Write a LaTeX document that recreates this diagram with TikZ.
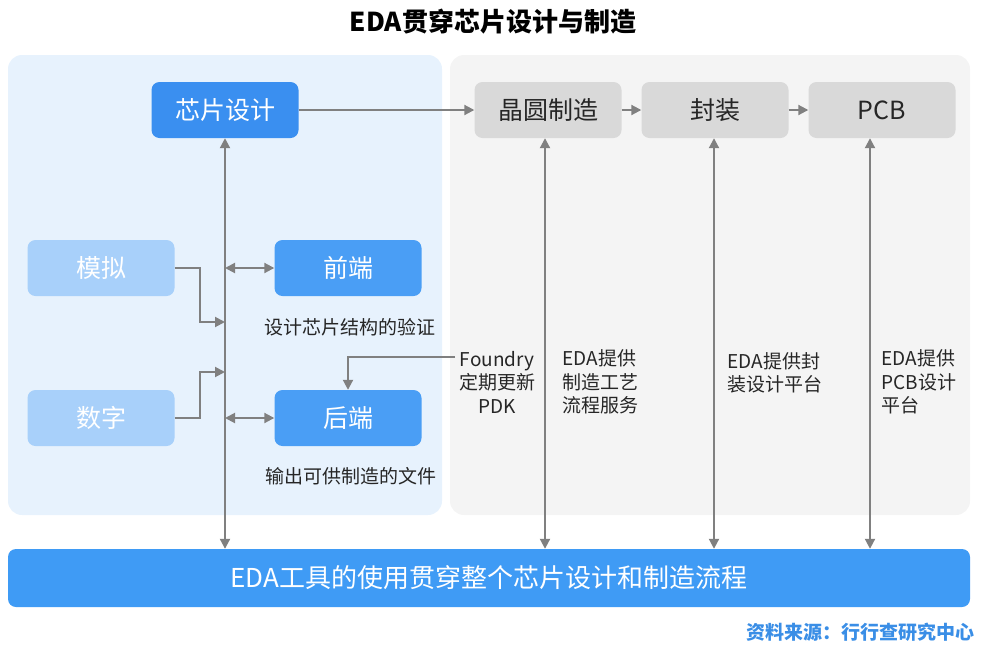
\documentclass[tikz,border=0pt]{standalone}
\usepackage{fontspec}
\setmainfont{Noto Sans CJK SC}
\usetikzlibrary{positioning}
\usetikzlibrary{calc}
\usetikzlibrary{arrows.meta}
\definecolor{panelblue}{HTML}{E7F2FD}
\definecolor{panelgray}{HTML}{F4F4F4}
\definecolor{chipblue}{HTML}{3A8FF0}
\definecolor{endblue}{HTML}{4A9EF5}
\definecolor{paleblue}{HTML}{A8D0FA}
\definecolor{stepgray}{HTML}{D9D9D9}
\definecolor{barblue}{HTML}{3F9BF5}
\definecolor{srcblue}{HTML}{3A8EE6}
\definecolor{linkgray}{HTML}{808080}

\begin{document}
\begin{tikzpicture}[x=1pt, y=-1pt, >={Triangle[length=10pt,width=10pt]},
    box/.style={rectangle, rounded corners=8pt, minimum width=147pt, minimum height=56pt, inner sep=0pt, font=\fontsize{25}{29}\selectfont},
    design/.style={box, fill=chipblue, text=white},
    stage/.style={box, fill=endblue, text=white},
    kind/.style={box, fill=paleblue, text=white},
    fab/.style={box, fill=stepgray, text=black!85},
    note/.style={font=\fontsize{19}{23.5}\selectfont, text=black!85},
    link/.style={draw=linkgray, line width=2pt}]

    \useasboundingbox (0,0) rectangle (999,654);

    % Title
    \node[font=\fontsize{26}{30}\selectfont\bfseries] (title) at (493,22) {EDA贯穿芯片设计与制造};

    % Panels
    \fill[panelblue, rounded corners=14pt] (8,55) rectangle (442,515);
    \fill[panelgray, rounded corners=14pt] (450,55) rectangle (970,515);

    % Top row
    \node[design] (chip) at (225,110) {芯片设计};
    \node[fab] (wafer) at (548,110) {晶圆制造};
    \node[fab] (pack) at (715,110) {封装};
    \node[fab] (pcb) at (882,110) {PCB};
    \draw[link, ->] (chip) -- (wafer);
    \draw[link, ->] (wafer) -- (pack);
    \draw[link, ->] (pack) -- (pcb);

    % Design side
    \node[kind] (analog) at (101,268) {模拟};
    \node[kind] (digital) at (101,418) {数字};
    \node[stage] (front) at (348,268) {前端};
    \node[stage] (back) at (348,418) {后端};
    \node[note] (frontnote) at (350,327) {设计芯片结构的验证};
    \node[note] (backnote) at (351,476) {输出可供制造的文件};

    % Bottom bar
    \node[box, fill=barblue, text=white, minimum width=962pt, minimum height=58pt, font=\fontsize{26}{30}\selectfont] (bar) at (489,578) {EDA工具的使用贯穿整个芯片设计和制造流程};

    % Main vertical line
    \draw[link, <->] (chip.south) -- (chip.south |- bar.north);
    \draw[link, <->] (chip.south |- front.west) -- (front.west);
    \draw[link, <->] (chip.south |- back.west) -- (back.west);
    \coordinate (ain) at (225,322);
    \coordinate (din) at (225,372);
    \draw[link, ->] (analog.east) -- ++(25,0) |- (ain);
    \draw[link, ->] (digital.east) -- ++(25,0) |- (din);

    % Foundry PDK
    \node[note, align=center] (foundry) at (497,382) {Foundry\\定期更新\\PDK};
    \coordinate (fd) at (455,357);
    \draw[link, ->] (fd) -| (back.north);

    % Manufacturing side
    \draw[link, <->] ([xshift=-3pt]wafer.south) -- ([xshift=-3pt]wafer.south |- bar.north);
    \draw[link, <->] ([xshift=-1pt]pack.south) -- ([xshift=-1pt]pack.south |- bar.north);
    \draw[link, <->] ([xshift=-12pt]pcb.south) -- ([xshift=-12pt]pcb.south |- bar.north);
    \node[note, align=left, anchor=west] (wafernote) at (559,382) {EDA提供\\制造工艺\\流程服务};
    \node[note, align=left, anchor=west] (packnote) at (724,373) {EDA提供封\\装设计平台};
    \node[note, align=left, anchor=west] (pcbnote) at (878,382) {EDA提供\\PCB设计\\平台};

    % Source
    \node[font=\fontsize{19}{22}\selectfont\bfseries, text=srcblue, anchor=east] (source) at (978,632) {资料来源：行行查研究中心};
\end{tikzpicture}
\end{document}
